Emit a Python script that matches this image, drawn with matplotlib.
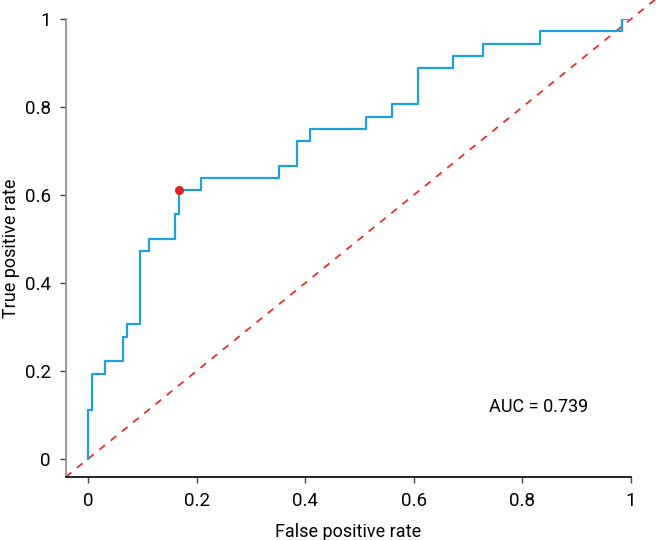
import matplotlib
matplotlib.use("Agg")
import matplotlib.pyplot as plt

plt.rcParams["font.family"] = ["Roboto", "DejaVu Sans"]

# ROC curve corner points
fpr = [0.0, 0.0, 0.008, 0.008, 0.032, 0.032, 0.064, 0.064, 0.072, 0.072,
       0.096, 0.096, 0.112, 0.112, 0.160, 0.160, 0.168, 0.168, 0.208, 0.208,
       0.352, 0.352, 0.384, 0.384, 0.408, 0.408, 0.512, 0.512, 0.560, 0.560,
       0.608, 0.608, 0.672, 0.672, 0.728, 0.728, 0.832, 0.832, 0.984, 0.984,
       1.0]
tpr = [0.0, 0.111, 0.111, 0.194, 0.194, 0.222, 0.222, 0.278, 0.278, 0.306,
       0.306, 0.472, 0.472, 0.500, 0.500, 0.556, 0.556, 0.611, 0.611, 0.639,
       0.639, 0.667, 0.667, 0.722, 0.722, 0.750, 0.750, 0.778, 0.778, 0.806,
       0.806, 0.889, 0.889, 0.917, 0.917, 0.944, 0.944, 0.972, 0.972, 1.0,
       1.0]

# optimal cut-off point
cut_fpr = 0.168
cut_tpr = 0.611

auc = 0.739
ticks = [0, 0.2, 0.4, 0.6, 0.8, 1]
tick_labels = ["0", "0.2", "0.4", "0.6", "0.8", "1"]

fig = plt.figure(figsize=(6.56, 5.4), dpi=100)
ax = fig.add_axes([0.1006, 0.1167, 0.8613, 0.848])

ax.plot([-0.041, 1.045], [-0.041, 1.045], color="#E8302A", lw=1.3,
        ls=(0, (4, 4)), clip_on=False, zorder=1)
ax.plot(fpr, tpr, color="#1E9FE0", lw=1.6, zorder=2)
ax.plot(cut_fpr, cut_tpr, "o", color="#E3231D", ms=5.5, zorder=3)

ax.set_xlim(-0.0405, 1.0)
ax.set_ylim(-0.041, 1.0)
ax.set_xticks(ticks)
ax.set_xticklabels(tick_labels)
ax.set_yticks(ticks)
ax.set_yticklabels(tick_labels)

for side in ["top", "right"]:
    ax.spines[side].set_visible(False)
ax.spines["left"].set_color("#8a8a8a")
ax.spines["bottom"].set_color("black")
ax.spines["left"].set_linewidth(1.2)
ax.spines["bottom"].set_linewidth(1.2)
ax.tick_params(length=4, width=1, color="#444444", labelsize=13.5, pad=7)

ax.set_xlabel("False positive rate", fontsize=13, labelpad=9)
ax.set_ylabel("True positive rate", fontsize=13)
ax.yaxis.set_label_coords(-0.082, 0.5)

ax.text(0.829, 0.118, f"AUC = {auc}", fontsize=13, ha="center", va="center")

plt.savefig("out.png", dpi=100)
